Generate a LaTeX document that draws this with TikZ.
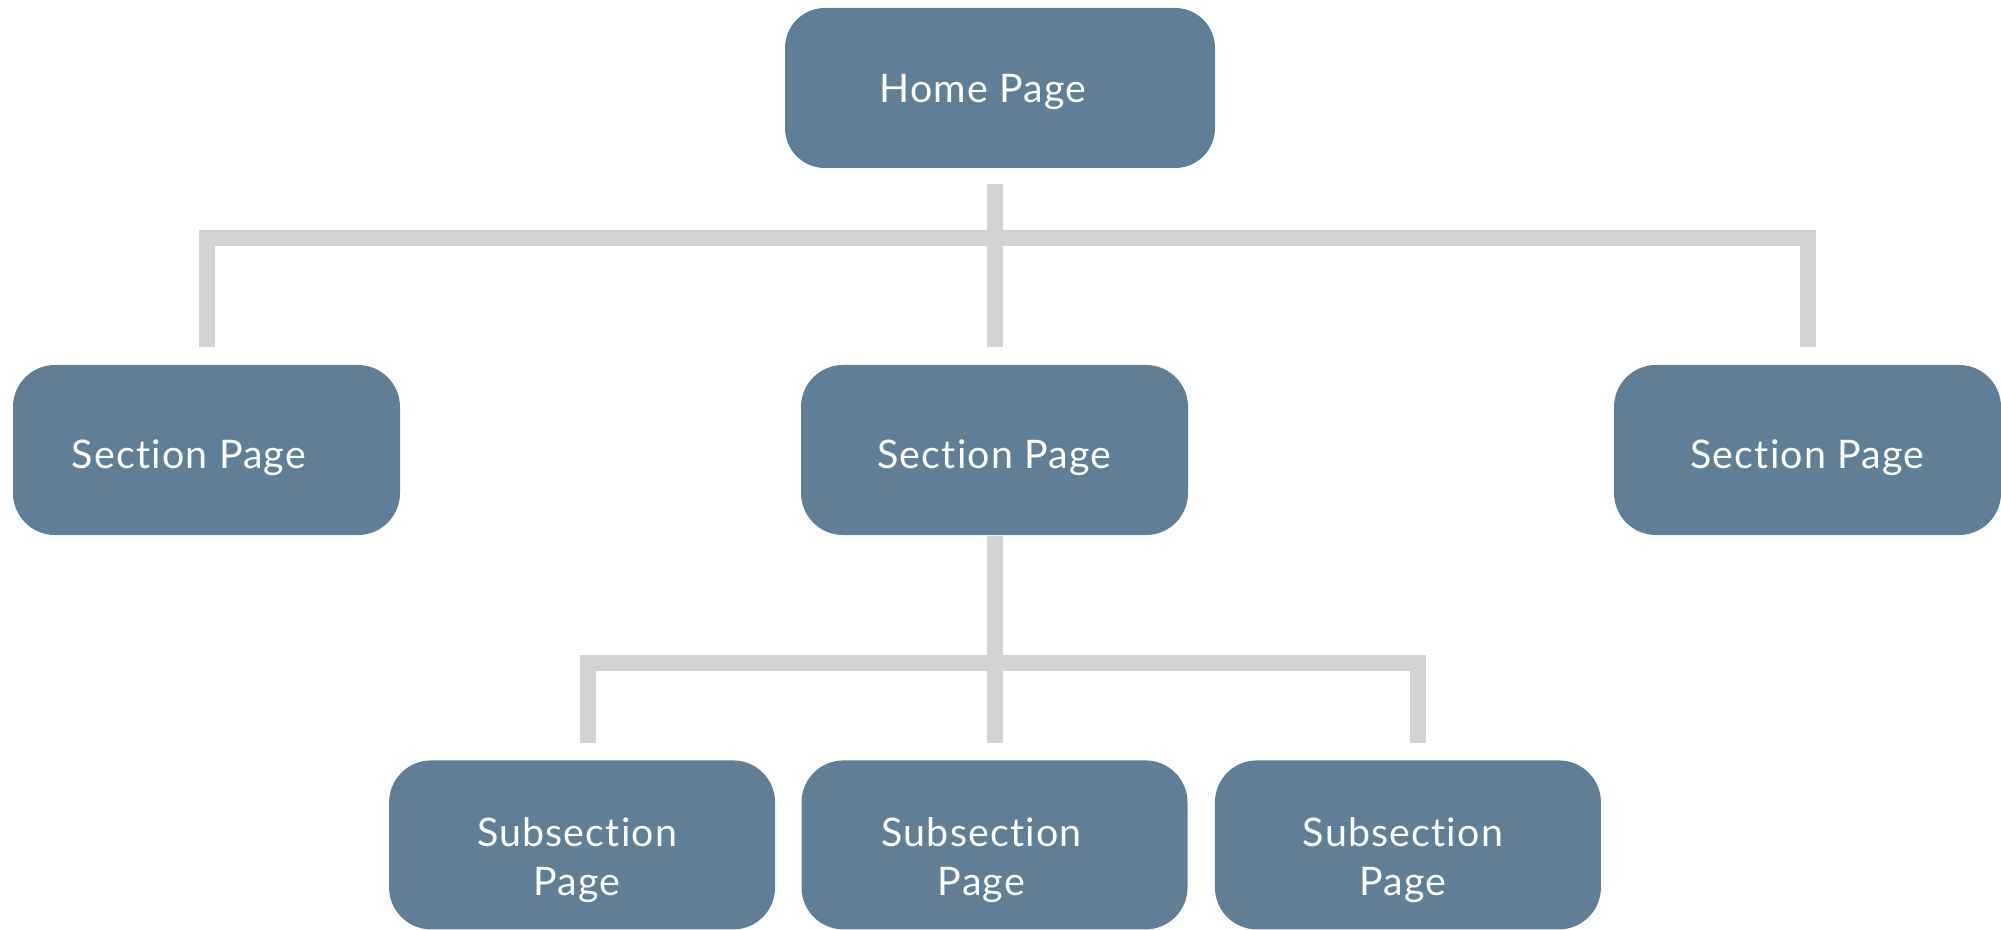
\documentclass[tikz,border=0pt]{standalone}
\usepackage{fontspec}
\setmainfont{Lato}[Ligatures=NoCommon, LetterSpace=3]
\usepackage{tikz}
\usetikzlibrary{positioning, calc}
\definecolor{pageblue}{RGB}{96, 127, 150}
\definecolor{linkgray}{RGB}{209, 211, 212}

\begin{document}
\begin{tikzpicture}[
    node distance=0.25cm,
    page/.style={rectangle, fill=pageblue, text=white, rounded corners=0.42cm,
                 minimum width=3.87cm, minimum height=1.70cm, inner sep=0pt,
                 text height=10.6pt, text depth=0pt,
                 font=\fontsize{11.2}{13.9}\selectfont},
    subpage/.style={page, minimum width=3.86cm, minimum height=1.69cm,
                    text height=8pt, text depth=7.15pt},
    link/.style={linkgray, line width=0.16cm}
]
\useasboundingbox (0,0) rectangle (20.01,-9.30);

% Home
\node[page, minimum width=4.30cm, minimum height=1.60cm, rounded corners=0.40cm, text height=8.5pt] (home) at (10.00,-0.88) {Home Page\hspace*{0.34cm}};

% Sections
\node[page] (secL) at (2.065,-4.50) {Section Page\hspace*{0.35cm}};
\node[page] (secM) at (9.945,-4.50) {Section Page};
\node[page] (secR) at (18.075,-4.50) {Section Page};

% Subsections
\node[subpage, below=2.24cm of secM] (sub2) {\begin{tabular}[t]{@{}c@{}}Subsection\\Page\end{tabular}\hspace*{0.26cm}};
\node[subpage, left=0.25cm of sub2] (sub1) {\begin{tabular}[t]{@{}c@{}}Subsection\\Page\end{tabular}\hspace*{0.10cm}};
\node[subpage, right=0.26cm of sub2] (sub3) {\begin{tabular}[t]{@{}c@{}}Subsection\\Page\end{tabular}\hspace*{0.10cm}};

% Links
\coordinate (hub) at ($(secM.north) + (0,1.26)$);
\coordinate (subhub) at ($(secM.south) + (0,-1.27)$);

\draw[link] ([yshift=-0.15cm]home.south -| secM.north) -- ([yshift=0.17cm]secM.north);
\draw[link] ([yshift=0.17cm]secL.north) |- (hub) -| ([yshift=0.17cm]secR.north);

\draw[link] (secM.south) -- ([yshift=0.17cm]sub2.north);
\draw[link] ([xshift=0.06cm, yshift=0.17cm]sub1.north) |- (subhub) -| ([xshift=0.10cm, yshift=0.17cm]sub3.north);

\end{tikzpicture}
\end{document}
